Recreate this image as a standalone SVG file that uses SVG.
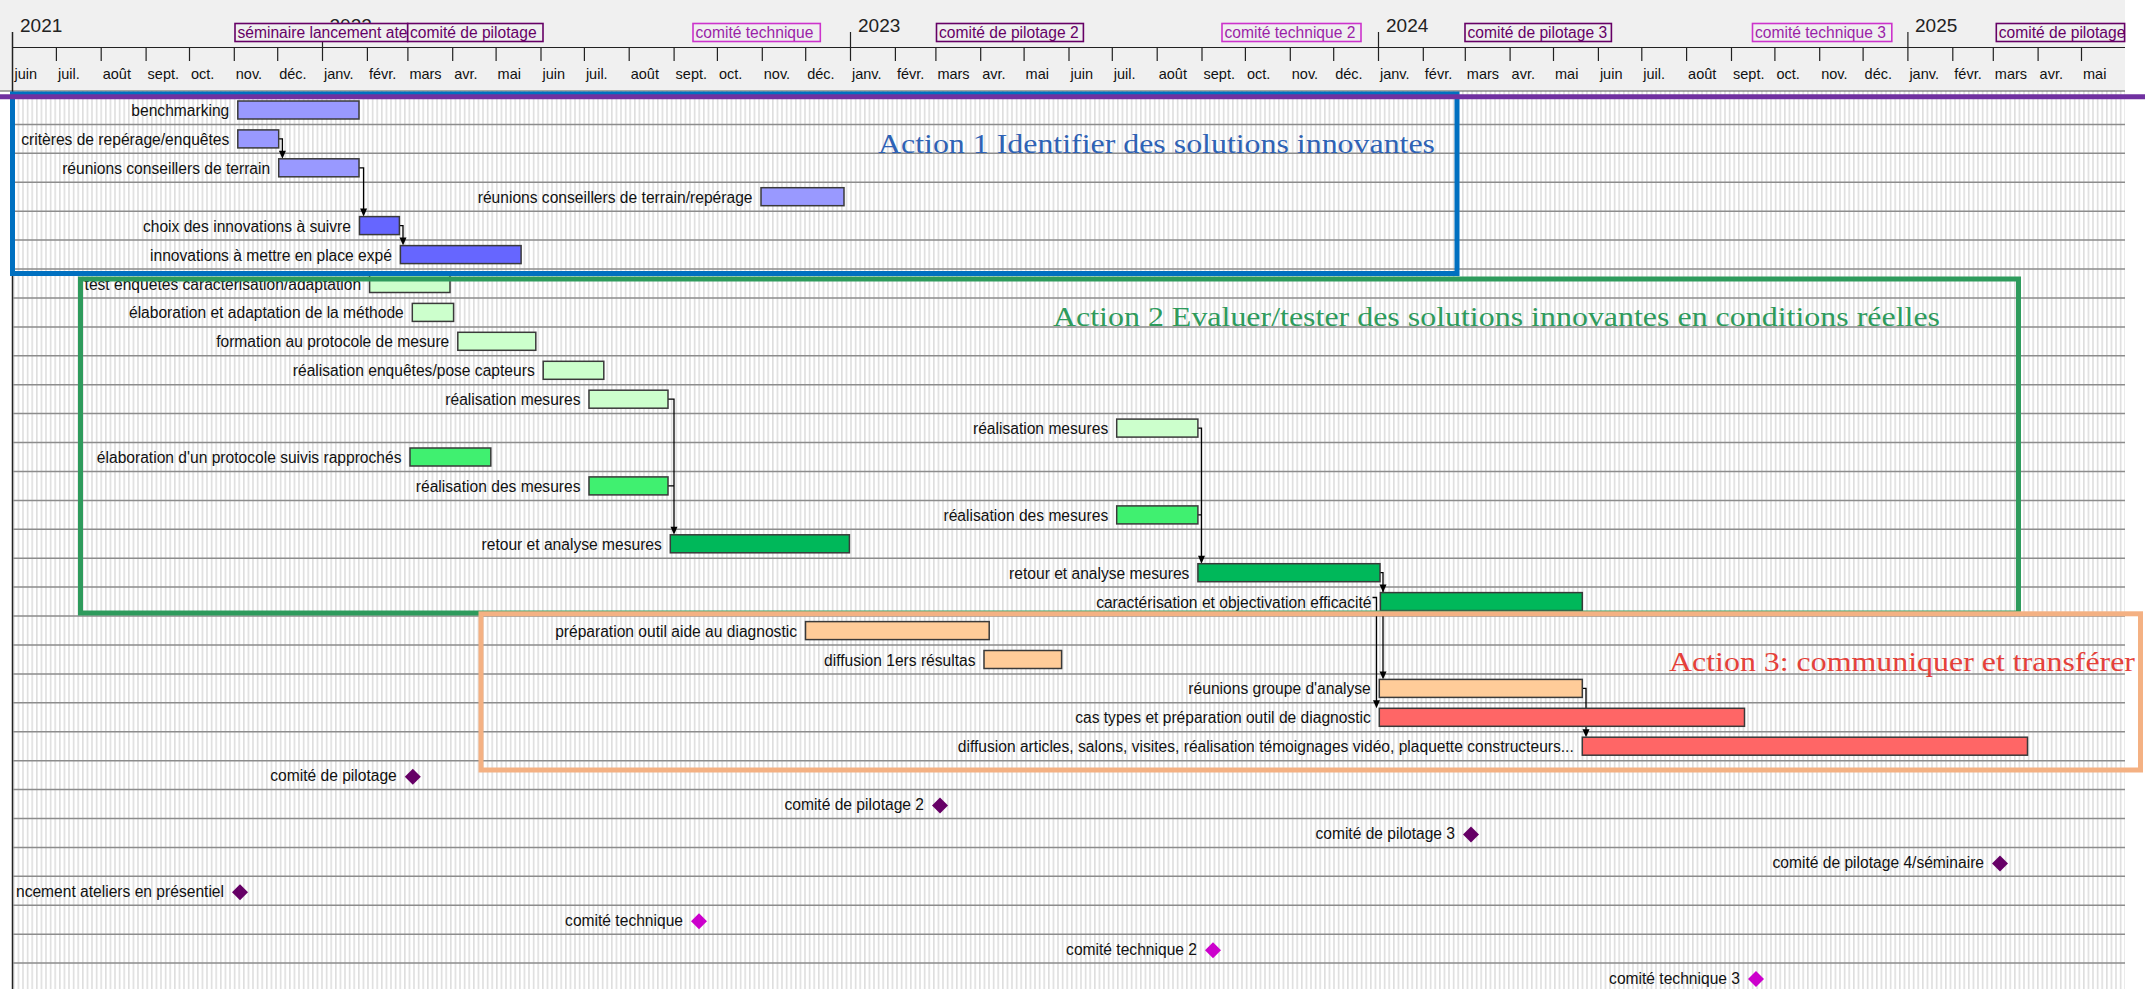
<svg xmlns="http://www.w3.org/2000/svg" width="2145" height="989" viewBox="0 0 2145 989">
<defs>
<pattern id="stripes" x="13" y="0" width="4.6" height="20" patternUnits="userSpaceOnUse">
<rect width="4.6" height="20" fill="#ffffff"/>
<rect width="1.6" height="20" fill="#dedede"/>
</pattern>
<clipPath id="clip8"><rect x="1996.3" y="23.5" width="128.3" height="18"/></clipPath>
<clipPath id="clip2022"><rect x="320" y="0" width="80" height="23"/></clipPath>
<style>
.lbl{font-family:"Liberation Sans",Arial,sans-serif;font-size:15.6px;fill:#111;text-anchor:end}
.mon{font-family:"Liberation Sans",Arial,sans-serif;font-size:14.5px;fill:#111}
.yr{font-family:"Liberation Sans",Arial,sans-serif;font-size:19px;fill:#222}
.hbx{fill:#f0f0f0;stroke-width:1.6}
.hp{stroke:#660066}
.ht{stroke:#cc33cc}
.htxt{font-family:"Liberation Sans",Arial,sans-serif;font-size:15.6px}
.tp{fill:#660066}
.tt{fill:#9b1fa8}
.bar{stroke:#3a3a3a;stroke-width:1.5}
.b1{fill:#9999ff}.b2{fill:#6666ff}.g1{fill:#ccffcc}.g2{fill:#40f070}.g3{fill:#00b85a}.o1{fill:#ffcc99}.r1{fill:#ff6666}
.ms{fill:#660066}.mt{fill:#cc00cc}
.rl{fill:none;stroke:#8c8c8c;stroke-width:1.5}
.tick{fill:none;stroke:#222;stroke-width:1.2}
.cn{fill:none;stroke:#000;stroke-width:1.3}
.ah{fill:#000}
.act{font-family:"Liberation Serif","Times New Roman",serif;font-size:28px}
.box{fill:none;stroke-width:5}
</style>
</defs>
<rect x="0" y="0" width="2145" height="989" fill="#ffffff"/>
<rect x="13" y="91" width="2112" height="898" fill="url(#stripes)"/>
<g id="header">
<rect x="0" y="0" width="2125" height="91" fill="#f0f0f0"/>
<line x1="0" y1="91" x2="2125" y2="91" stroke="#555" stroke-width="1"/>
<line x1="12.5" y1="32" x2="12.5" y2="989" stroke="#222" stroke-width="1.5"/>
<line x1="12.5" y1="47.5" x2="2125" y2="47.5" class="tick"/>
<path class="tick" d="M56.4,47.5V61M101.2,47.5V61M146.1,47.5V61M189.5,47.5V61M234.3,47.5V61M277.7,47.5V61M367.4,47.5V61M407.9,47.5V61M452.7,47.5V61M496.1,47.5V61M541,47.5V61M584.4,47.5V61M629.2,47.5V61M674.1,47.5V61M717.4,47.5V61M762.3,47.5V61M805.7,47.5V61M895.4,47.5V61M935.9,47.5V61M980.7,47.5V61M1024.1,47.5V61M1069,47.5V61M1112.3,47.5V61M1157.2,47.5V61M1202,47.5V61M1245.4,47.5V61M1290.3,47.5V61M1333.7,47.5V61M1423.3,47.5V61M1465.3,47.5V61M1510.1,47.5V61M1553.5,47.5V61M1598.4,47.5V61M1641.8,47.5V61M1686.6,47.5V61M1731.5,47.5V61M1774.9,47.5V61M1819.7,47.5V61M1863.1,47.5V61M1952.8,47.5V61M1993.3,47.5V61M2038.1,47.5V61M2081.5,47.5V61M322.5,32V61M850.5,32V61M1378.5,32V61M1907.9,32V61"/>
<text class="yr" x="20" y="32">2021</text>
<text class="yr" x="329.5" y="32" clip-path="url(#clip2022)">2022</text>
<text class="yr" x="858" y="32">2023</text>
<text class="yr" x="1386" y="32">2024</text>
<text class="yr" x="1915" y="32">2025</text>
<g class="mon">
<text class="mon" x="14.5" y="79">juin</text><text class="mon" x="58" y="79">juil.</text><text class="mon" x="102.7" y="79">août</text><text class="mon" x="147.6" y="79">sept.</text><text class="mon" x="191" y="79">oct.</text><text class="mon" x="235.8" y="79">nov.</text><text class="mon" x="279.2" y="79">déc.</text>
<text class="mon" x="324" y="79">janv.</text><text class="mon" x="368.9" y="79">févr.</text><text class="mon" x="409.4" y="79">mars</text><text class="mon" x="454.2" y="79">avr.</text><text class="mon" x="497.6" y="79">mai</text><text class="mon" x="542.5" y="79">juin</text><text class="mon" x="585.9" y="79">juil.</text><text class="mon" x="630.7" y="79">août</text><text class="mon" x="675.6" y="79">sept.</text><text class="mon" x="718.9" y="79">oct.</text><text class="mon" x="763.8" y="79">nov.</text><text class="mon" x="807.2" y="79">déc.</text>
<text class="mon" x="852" y="79">janv.</text><text class="mon" x="896.9" y="79">févr.</text><text class="mon" x="937.4" y="79">mars</text><text class="mon" x="982.2" y="79">avr.</text><text class="mon" x="1025.6" y="79">mai</text><text class="mon" x="1070.5" y="79">juin</text><text class="mon" x="1113.8" y="79">juil.</text><text class="mon" x="1158.7" y="79">août</text><text class="mon" x="1203.5" y="79">sept.</text><text class="mon" x="1246.9" y="79">oct.</text><text class="mon" x="1291.8" y="79">nov.</text><text class="mon" x="1335.2" y="79">déc.</text>
<text class="mon" x="1380" y="79">janv.</text><text class="mon" x="1424.8" y="79">févr.</text><text class="mon" x="1466.8" y="79">mars</text><text class="mon" x="1511.6" y="79">avr.</text><text class="mon" x="1555" y="79">mai</text><text class="mon" x="1599.9" y="79">juin</text><text class="mon" x="1643.3" y="79">juil.</text><text class="mon" x="1688.1" y="79">août</text><text class="mon" x="1733" y="79">sept.</text><text class="mon" x="1776.4" y="79">oct.</text><text class="mon" x="1821.2" y="79">nov.</text><text class="mon" x="1864.6" y="79">déc.</text>
<text class="mon" x="1909.4" y="79">janv.</text><text class="mon" x="1954.3" y="79">févr.</text><text class="mon" x="1994.8" y="79">mars</text><text class="mon" x="2039.6" y="79">avr.</text><text class="mon" x="2083" y="79">mai</text>
</g>
</g>
<g id="h-seminaire"><rect class="hbx hp" x="235" y="23.5" width="172.7" height="18"/><text class="htxt tp" x="237.5" y="37.5">séminaire lancement ate</text></g>
<g id="h-cp1"><rect class="hbx hp" x="407.7" y="23.5" width="135.3" height="18"/><text class="htxt tp" x="410" y="37.5">comité de pilotage</text></g>
<g id="h-ct1"><rect class="hbx ht" x="693" y="23.5" width="127.3" height="18"/><text class="htxt tt" x="695.5" y="37.5">comité technique</text></g>
<g id="h-cp2"><rect class="hbx hp" x="936.5" y="23.5" width="146.9" height="18"/><text class="htxt tp" x="939" y="37.5">comité de pilotage 2</text></g>
<g id="h-ct2"><rect class="hbx ht" x="1222" y="23.5" width="139" height="18"/><text class="htxt tt" x="1224.5" y="37.5">comité technique 2</text></g>
<g id="h-cp3"><rect class="hbx hp" x="1465" y="23.5" width="146.4" height="18"/><text class="htxt tp" x="1467.5" y="37.5">comité de pilotage 3</text></g>
<g id="h-ct3"><rect class="hbx ht" x="1752.5" y="23.5" width="139.3" height="18"/><text class="htxt tt" x="1755" y="37.5">comité technique 3</text></g>
<g id="h-cp4"><rect class="hbx hp" x="1996.3" y="23.5" width="128.3" height="18"/><text class="htxt tp" x="1998.8" y="37.5" clip-path="url(#clip8)">comité de pilotage</text></g>
<path class="rl" d="M13,124.4H2125M13,153.3H2125M13,182.3H2125M13,211.2H2125M13,240.1H2125M13,269H2125M13,297.9H2125M13,326.9H2125M13,355.8H2125M13,384.7H2125M13,413.6H2125M13,442.5H2125M13,471.5H2125M13,500.4H2125M13,529.3H2125M13,558.2H2125M13,587.1H2125M13,616.1H2125M13,645H2125M13,673.9H2125M13,702.8H2125M13,731.7H2125M13,760.7H2125M13,789.6H2125M13,818.5H2125M13,847.4H2125M13,876.3H2125M13,905.3H2125M13,934.2H2125M13,963.1H2125"/>
<g id="connectors">
<path class="cn" d="M278.7,138.9H282.4V152M359,167.8H363.6V210M399.4,225.6H403V239M668,399.2H674V528M668,485.9H674M1197.9,428.1H1201.5V557M1197.9,514.9H1201.5M1380,572.7H1383V673M1372.5,597.5H1376.5V702M1582.3,688.4H1586V731"/>
<polygon class="ah" points="278.9,150.8 285.9,150.8 282.4,158.8"/>
<polygon class="ah" points="360.1,208.6 367.1,208.6 363.6,216.6"/>
<polygon class="ah" points="399.5,237.6 406.5,237.6 403,245.6"/>
<polygon class="ah" points="670.5,526.8 677.5,526.8 674,534.8"/>
<polygon class="ah" points="1198,555.7 1205,555.7 1201.5,563.7"/>
<polygon class="ah" points="1379.5,584.6 1386.5,584.6 1383,592.6"/>
<polygon class="ah" points="1379.5,671.4 1386.5,671.4 1383,679.4"/>
<polygon class="ah" points="1373,700.3 1380,700.3 1376.5,708.3"/>
<polygon class="ah" points="1582.5,729.2 1589.5,729.2 1586,737.2"/>
</g>
<g id="t01"><rect class="bar b1" x="237.8" y="101" width="121.2" height="18"/><text class="lbl" x="229.3" y="116">benchmarking</text></g>
<g id="t02"><rect class="bar b1" x="237.8" y="129.9" width="40.9" height="18"/><text class="lbl" x="229.3" y="144.9">critères de repérage/enquêtes</text></g>
<g id="t03"><rect class="bar b1" x="278.7" y="158.8" width="80.3" height="18"/><text class="lbl" x="270.2" y="173.8">réunions conseillers de terrain</text></g>
<g id="t04"><rect class="bar b1" x="761" y="187.7" width="83" height="18"/><text class="lbl" x="752.5" y="202.7">réunions conseillers de terrain/repérage</text></g>
<g id="t05"><rect class="bar b2" x="359.5" y="216.6" width="39.9" height="18"/><text class="lbl" x="351" y="231.6">choix des innovations à suivre</text></g>
<g id="t06"><rect class="bar b2" x="400.4" y="245.6" width="120.7" height="18"/><text class="lbl" x="391.9" y="260.6">innovations à mettre en place expé</text></g>
<g id="t07"><rect class="bar g1" x="369.6" y="274.5" width="80.4" height="18"/><text class="lbl" x="361.1" y="289.5">test enquêtes caractérisation/adaptation</text></g>
<g id="t08"><rect class="bar g1" x="412.3" y="303.4" width="41.3" height="18"/><text class="lbl" x="403.8" y="318.4">élaboration et adaptation de la méthode</text></g>
<g id="t09"><rect class="bar g1" x="457.8" y="332.3" width="78" height="18"/><text class="lbl" x="449.3" y="347.3">formation au protocole de mesure</text></g>
<g id="t10"><rect class="bar g1" x="543.2" y="361.3" width="60.6" height="18"/><text class="lbl" x="534.7" y="376.3">réalisation enquêtes/pose capteurs</text></g>
<g id="t11"><rect class="bar g1" x="589" y="390.2" width="79" height="18"/><text class="lbl" x="580.5" y="405.2">réalisation mesures</text></g>
<g id="t12"><rect class="bar g1" x="1116.7" y="419.1" width="81.2" height="18"/><text class="lbl" x="1108.2" y="434.1">réalisation mesures</text></g>
<g id="t13"><rect class="bar g2" x="410" y="448" width="80.8" height="18"/><text class="lbl" x="401.5" y="463">élaboration d'un protocole suivis rapprochés</text></g>
<g id="t14"><rect class="bar g2" x="589" y="476.9" width="79" height="18"/><text class="lbl" x="580.5" y="491.9">réalisation des mesures</text></g>
<g id="t15"><rect class="bar g2" x="1116.7" y="505.9" width="81.2" height="18"/><text class="lbl" x="1108.2" y="520.9">réalisation des mesures</text></g>
<g id="t16"><rect class="bar g3" x="670.3" y="534.8" width="179.1" height="18"/><text class="lbl" x="661.8" y="549.8">retour et analyse mesures</text></g>
<g id="t17"><rect class="bar g3" x="1197.9" y="563.7" width="182.1" height="18"/><text class="lbl" x="1189.4" y="578.7">retour et analyse mesures</text></g>
<g id="t18"><rect class="bar g3" x="1380.4" y="592.6" width="201.9" height="18"/><text class="lbl" x="1371.5" y="607.6">caractérisation et objectivation efficacité</text></g>
<g id="t19"><rect class="bar o1" x="805.5" y="621.6" width="183.7" height="18"/><text class="lbl" x="797" y="636.6">préparation outil aide au diagnostic</text></g>
<g id="t20"><rect class="bar o1" x="984" y="650.5" width="77.6" height="18"/><text class="lbl" x="975.5" y="665.5">diffusion 1ers résultas</text></g>
<g id="t21"><rect class="bar o1" x="1379.3" y="679.4" width="203" height="18"/><text class="lbl" x="1370.8" y="694.4">réunions groupe d'analyse</text></g>
<g id="t22"><rect class="bar r1" x="1379.3" y="708.3" width="365.2" height="18"/><text class="lbl" x="1370.8" y="723.3">cas types et préparation outil de diagnostic</text></g>
<g id="t23"><rect class="bar r1" x="1582.3" y="737.2" width="445.2" height="18"/><text class="lbl" x="1573.8" y="752.2">diffusion articles, salons, visites, réalisation témoignages vidéo, plaquette constructeurs...</text></g>
<g id="m24"><polygon class="ms" points="412.8,768.7 420.8,776.7 412.8,784.7 404.8,776.7"/><text class="lbl" x="396.8" y="781.2">comité de pilotage</text></g>
<g id="m25"><polygon class="ms" points="940,797.6 948,805.6 940,813.6 932,805.6"/><text class="lbl" x="924" y="810.1">comité de pilotage 2</text></g>
<g id="m26"><polygon class="ms" points="1471,826.5 1479,834.5 1471,842.5 1463,834.5"/><text class="lbl" x="1455" y="839">comité de pilotage 3</text></g>
<g id="m27"><polygon class="ms" points="2000,855.4 2008,863.4 2000,871.4 1992,863.4"/><text class="lbl" x="1984" y="867.9">comité de pilotage 4/séminaire</text></g>
<g id="m28"><polygon class="ms" points="240,884.3 248,892.3 240,900.3 232,892.3"/><text class="lbl" x="224" y="896.8">ncement ateliers en présentiel</text></g>
<g id="m29"><polygon class="mt" points="699,913.3 707,921.3 699,929.3 691,921.3"/><text class="lbl" x="683" y="925.8">comité technique</text></g>
<g id="m30"><polygon class="mt" points="1213,942.2 1221,950.2 1213,958.2 1205,950.2"/><text class="lbl" x="1197" y="954.7">comité technique 2</text></g>
<g id="m31"><polygon class="mt" points="1756,971.1 1764,979.1 1756,987.1 1748,979.1"/><text class="lbl" x="1740" y="983.6">comité technique 3</text></g>
<g id="action1"><rect class="box" x="12.5" y="94" width="1444.5" height="179.5" stroke="#0070c0"/><text class="act" x="878" y="153" fill="#2e62b5" textLength="557" lengthAdjust="spacingAndGlyphs">Action 1 Identifier des solutions innovantes</text></g>
<g id="action2"><rect class="box" x="80.5" y="279" width="1938" height="334" stroke="#2e9b5c"/><text class="act" x="1053" y="326" fill="#2e9b5c" textLength="887" lengthAdjust="spacingAndGlyphs">Action 2 Evaluer/tester des solutions innovantes en conditions réelles</text></g>
<g id="action3"><rect class="box" x="481" y="613.8" width="1659.5" height="156.2" stroke="#f4b183"/><text class="act" x="1669" y="671" fill="#e5413a" textLength="466" lengthAdjust="spacingAndGlyphs">Action 3: communiquer et transférer</text></g>
<line x1="0" y1="96.8" x2="2145" y2="96.8" stroke="#7030a0" stroke-width="5"/>
</svg>
